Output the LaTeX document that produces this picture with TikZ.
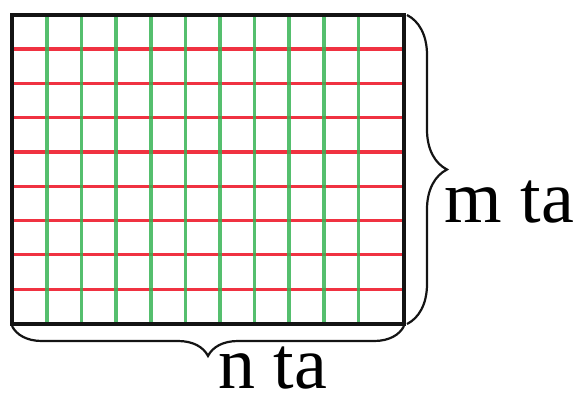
\documentclass[tikz,border=0pt]{standalone}
\usepackage{fontspec}
\setmainfont{Liberation Serif}
\usetikzlibrary{decorations.pathreplacing,calc}
\usepackage{xcolor}
\definecolor{gridgreen}{RGB}{55,180,85}
\definecolor{gridred}{RGB}{240,50,65}
\definecolor{framecolor}{RGB}{20,20,20}
\tikzset{
  frame/.style   = {draw=framecolor,line width=1.8pt},
  vline/.style   = {draw=gridgreen,line width=1.8pt,opacity=0.85},
  hline/.style   = {draw=gridred,line width=1.6pt},
  bracer/.style  = {draw=framecolor,line width=1.1pt,
                    decorate,decoration={brace,amplitude=20pt}},
  braceb/.style  = {draw=framecolor,line width=1.1pt,
                    decorate,decoration={brace,amplitude=15pt}},
  dimlabel/.style= {inner sep=0pt,font=\fontsize{37}{44}\selectfont},
}
\begin{document}
\begin{tikzpicture}[x=0.5pt,y=-0.5pt]
  \useasboundingbox (0,0) rectangle (580,398);
  \coordinate (tl) at (12,15);
  \coordinate (br) at (404,324);
  % red rows
  \foreach \y in {49,83.3,117.6,151.9,186.2,220.5,254.8,289.1}
    \draw[hline] (12,\y) -- (404,\y);
  % green columns
  \foreach \i in {0,...,9}
    \draw[vline] ({47+34.6*\i},15) -- ({47+34.6*\i},324);
  \draw[frame] (tl) rectangle (br);
  % braces
  \coordinate (rtop) at (407,15);
  \coordinate (rbot) at (407,324);
  \coordinate (bright) at (404,326);
  \coordinate (bleft) at (12,326);
  \draw[bracer] (rtop) -- (rbot);
  \draw[braceb] (bright) -- (bleft);
  \node[dimlabel,anchor=base west] (mta) at (444,222) {m ta};
  \node[dimlabel,anchor=base west] (nta) at (218,388) {n ta};
\end{tikzpicture}
\end{document}
